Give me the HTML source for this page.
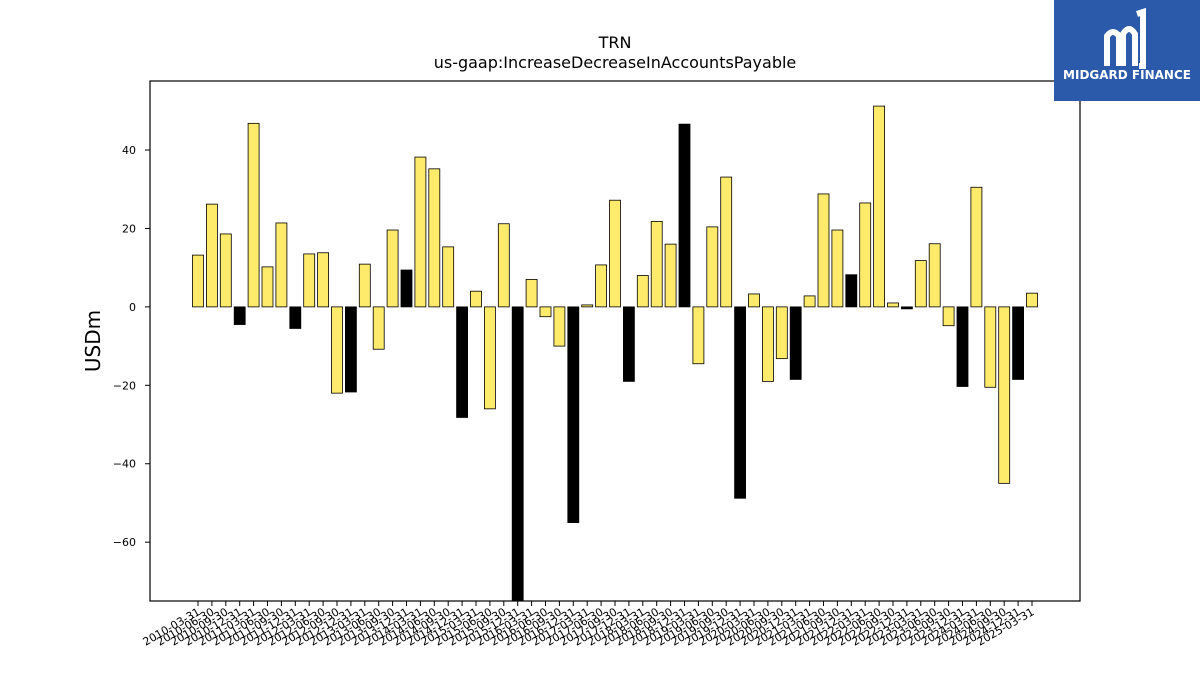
<!DOCTYPE html>
<html><head><meta charset="utf-8"><style>
body{margin:0;background:#fff;font-family:"DejaVu Sans","Liberation Sans",sans-serif}
#wrap{position:relative;width:1200px;height:675px;overflow:hidden}
svg text{font-family:"DejaVu Sans","Liberation Sans",sans-serif}
</style></head><body>
<div id="wrap">
<svg id="chart" width="1200" height="675">
<text x="615" y="48" text-anchor="middle" font-size="16">TRN</text>
<text x="615" y="68" text-anchor="middle" font-size="16">us-gaap:IncreaseDecreaseInAccountsPayable</text>
<text x="100" y="341" text-anchor="middle" font-size="20" transform="rotate(-90 100 341)">USDm</text>
<g id="bars"></g>
<g id="yticks"></g>
<g id="xticks"></g>
<rect x="150" y="81" width="930" height="520" fill="none" stroke="#000" stroke-width="1.2"/>
</svg>
<div style="position:absolute;left:1054px;top:0;width:146px;height:101px;background:#2b5aab;color:#fff;text-align:center">
<svg width="60" height="70" style="position:absolute;left:45px;top:6px"><path d="M8 60 V30 Q14 22 20 30 V60 M24 60 V28 Q30 18 36 28 V60 M38 8 L44 6 V60 H40" stroke="#fff" stroke-width="6" fill="none"/></svg>
<div style="position:absolute;left:0;top:68px;width:146px;font-size:12px;font-weight:bold">MIDGARD FINANCE</div>
</div>
</div>
<script>
const categories=[];
for(let yr=2010;yr<=2025;yr++){for(const q of ["03-31","06-30","09-30","12-31"]){if(yr===2025&&q!=="03-31")break;categories.push(yr+"-"+q);}}
const values=[13.2,26.2,18.6,-4.5,46.8,10.2,21.4,-5.5,13.5,13.8,-22,-21.7,10.9,-10.8,19.6,9.4,38.2,35.2,15.3,-28.2,4,-26,21.2,-80,7,-2.5,-10,-55,0.5,10.7,27.2,-19,8,21.8,16,46.6,-14.5,20.4,33.1,-48.8,3.3,-19,-13.2,-18.5,2.8,28.8,19.6,8.2,26.5,51.2,1,-0.5,11.8,16.1,-4.8,-20.3,30.5,-20.5,-45,-18.5,3.5];
const yTicks=[-60,-40,-20,0,20,40];
const NS="http://www.w3.org/2000/svg";
const yMin=-75,yMax=57.6,plotTop=81,plotBot=601;
const yScale=v=>plotBot-(v-yMin)/(yMax-yMin)*(plotBot-plotTop);
const x0=198,x1=1032;
const xScale=i=>x0+i*(x1-x0)/(categories.length-1);
const bars=document.getElementById('bars');
values.forEach((v,i)=>{
 const r=document.createElementNS(NS,'rect');
 const a=yScale(Math.max(v,0)),b=yScale(Math.min(v,0));
 const yy=Math.max(plotTop,a),hh=Math.min(plotBot,b)-yy;
 r.setAttribute('x',xScale(i)-5.5);r.setAttribute('y',yy);r.setAttribute('width',11);r.setAttribute('height',Math.max(hh,0.5));
 r.setAttribute('fill',categories[i].endsWith('12-31')?'#000':'#ffeb6b');
 r.setAttribute('stroke','#000');r.setAttribute('stroke-width','0.8');
 
 
 bars.appendChild(r);
});
const yt=document.getElementById('yticks');
yTicks.forEach(t=>{
 const l=document.createElementNS(NS,'line');
 l.setAttribute('x1',145);l.setAttribute('x2',150);l.setAttribute('y1',yScale(t));l.setAttribute('y2',yScale(t));l.setAttribute('stroke','#000');
 
 
 yt.appendChild(l);
 const s=document.createElementNS(NS,'text');
 s.setAttribute('x',136);s.setAttribute('y',yScale(t)+4);s.setAttribute('text-anchor','end');s.setAttribute('font-size','11');
 s.textContent=t===0?'0':(t<0?'\u2212'+(-t):String(t));
 
 
 yt.appendChild(s);
});
const xt=document.getElementById('xticks');
categories.forEach((c,i)=>{
 const l=document.createElementNS(NS,'line');
 l.setAttribute('x1',xScale(i));l.setAttribute('x2',xScale(i));l.setAttribute('y1',601);l.setAttribute('y2',606);l.setAttribute('stroke','#000');
 
 
 xt.appendChild(l);
 const s=document.createElementNS(NS,'text');
 const tx=xScale(i)+3,ty=614;
 s.setAttribute('x',tx);s.setAttribute('y',ty);s.setAttribute('text-anchor','end');s.setAttribute('font-size','11');
 s.setAttribute('transform','rotate(-30 '+tx+' '+ty+')');
 s.textContent=c;
 
 
 xt.appendChild(s);
});
</script>
</body></html>
